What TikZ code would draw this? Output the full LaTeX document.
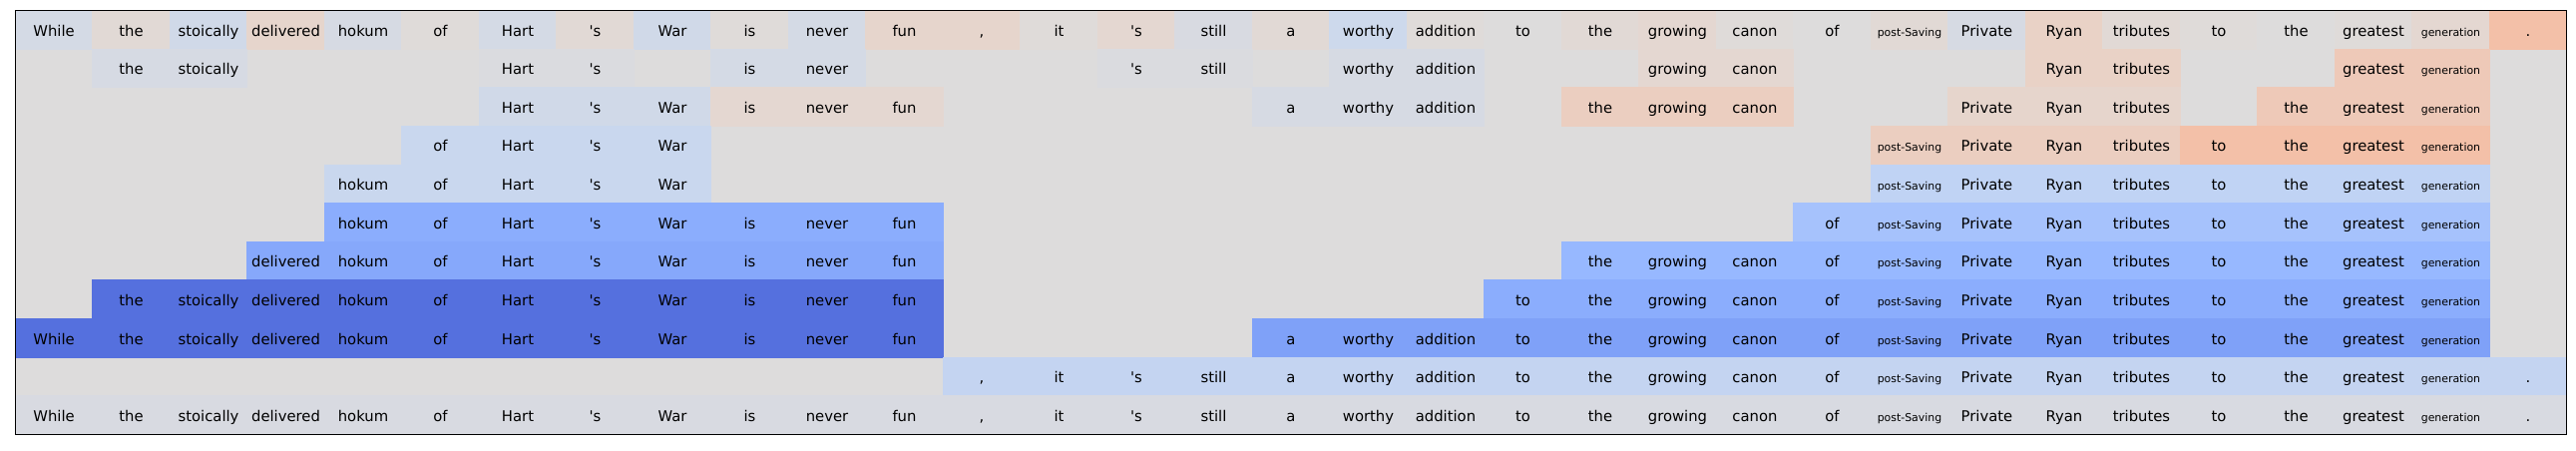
\documentclass[tikz,border=0pt]{standalone}
\usepackage{fontspec}
\setmainfont{DejaVu Sans}[Ligatures=TeXOff]
\usepackage{xcolor}
\definecolor{AttrGray}{HTML}{DDDCDC}
\definecolor{WarmA}{HTML}{DFDBD9}
\definecolor{WarmB}{HTML}{E1D9D5}
\definecolor{WarmC}{HTML}{E4D7D1}
\definecolor{WarmD}{HTML}{E6D5CC}
\definecolor{WarmE}{HTML}{E9D2C6}
\definecolor{WarmF}{HTML}{EBCEC0}
\definecolor{WarmG}{HTML}{EEC9B8}
\definecolor{WarmH}{HTML}{F3C0A8}
\definecolor{CoolA}{HTML}{DADBDF}
\definecolor{CoolB}{HTML}{D8DAE1}
\definecolor{CoolC}{HTML}{D6DAE3}
\definecolor{CoolD}{HTML}{D4DAE5}
\definecolor{CoolE}{HTML}{D0D9E8}
\definecolor{CoolF}{HTML}{CDD9EC}
\definecolor{CoolG}{HTML}{C9D7EE}
\definecolor{CoolH}{HTML}{C4D4F1}
\definecolor{CoolI}{HTML}{C0D3F4}
\definecolor{CoolJ}{HTML}{A6C2FC}
\definecolor{CoolK}{HTML}{97B8FF}
\definecolor{CoolL}{HTML}{8BADFD}
\definecolor{CoolM}{HTML}{86A8FB}
\definecolor{CoolN}{HTML}{7FA1F8}
\definecolor{CoolO}{HTML}{5570DE}

\newcommand{\shrunk}{\fontsize{5.45}{6}\selectfont}
% one coloured group of words: row, first column, colour, words
\newcommand{\attrspan}[4]{%
  \foreach \w [count=\i from #2] in {#4}
    \node[cell=#3] (r#1c\i) at (\i-0.5, #1-0.5) {\w};}

\begin{document}
\begin{tikzpicture}[x=38.75pt, y=-19.32pt,
    every node/.style={font=\fontsize{7.4}{9}\selectfont},
    cell/.style={fill=#1, draw=#1, line width=0.3pt, minimum width=38.75pt, minimum height=19.32pt,
      inner sep=0pt, text height=0.7em, text depth=0.06em}]
    \path[use as bounding box, fill=white] (-7.65pt,5.15pt) rectangle (1283.4pt,-220.37pt);
    \fill[AttrGray] (0,0) rectangle (33,11);

    % Row 1: single words
    \foreach \w/\k [count=\i] in {While/CoolD, the/WarmB, stoically/CoolE, delivered/WarmD, hokum/CoolC,
        of/WarmA, Hart/CoolD, 's/WarmB, War/CoolE, is/WarmA, never/CoolD, fun/WarmD, {,}/WarmD,
        it/WarmA, 's/WarmC, still/CoolB, a/WarmB, worthy/CoolF, addition/WarmA, to/AttrGray,
        the/WarmB, growing/WarmC, canon/WarmA, of/AttrGray, {\shrunk post-Saving}/WarmB,
        Private/CoolC, Ryan/WarmE, tributes/WarmB, to/WarmA, the/AttrGray, greatest/WarmA,
        {\shrunk generation}/WarmC, ./WarmH}
      \node[cell=\k] (r1c\i) at (\i-0.5, 0.5) {\w};

    % Row 2
    \attrspan{2}{2}{CoolC}{the,stoically}
    \attrspan{2}{7}{CoolA}{Hart,'s}
    \attrspan{2}{10}{CoolD}{is,never}
    \attrspan{2}{15}{CoolA}{'s,still}
    \attrspan{2}{18}{CoolC}{worthy,addition}
    \attrspan{2}{22}{WarmC}{growing,canon}
    \attrspan{2}{27}{WarmE}{Ryan,tributes}
    \attrspan{2}{31}{WarmG}{greatest,\shrunk generation}

    % Row 3
    \attrspan{3}{7}{CoolE}{Hart,'s,War}
    \attrspan{3}{10}{WarmC}{is,never,fun}
    \attrspan{3}{17}{CoolC}{a,worthy,addition}
    \attrspan{3}{21}{WarmF}{the,growing,canon}
    \attrspan{3}{26}{WarmD}{Private,Ryan,tributes}
    \attrspan{3}{30}{WarmG}{the,greatest,\shrunk generation}

    % Row 4
    \attrspan{4}{6}{CoolG}{of,Hart,'s,War}
    \attrspan{4}{25}{WarmF}{\shrunk post-Saving,Private,Ryan,tributes}
    \attrspan{4}{29}{WarmH}{to,the,greatest,\shrunk generation}

    % Row 5
    \attrspan{5}{5}{CoolG}{hokum,of,Hart,'s,War}
    \attrspan{5}{25}{CoolI}{\shrunk post-Saving,Private,Ryan,tributes,to,the,greatest,\shrunk generation}

    % Row 6
    \attrspan{6}{5}{CoolL}{hokum,of,Hart,'s,War,is,never,fun}
    \attrspan{6}{24}{CoolJ}{of,\shrunk post-Saving,Private,Ryan,tributes,to,the,greatest,\shrunk generation}

    % Row 7
    \attrspan{7}{4}{CoolM}{delivered,hokum,of,Hart,'s,War,is,never,fun}
    \attrspan{7}{21}{CoolK}{the,growing,canon,of,\shrunk post-Saving,Private,Ryan,tributes,to,the,greatest,\shrunk generation}

    % Row 8
    \attrspan{8}{2}{CoolO}{the,stoically,delivered,hokum,of,Hart,'s,War,is,never,fun}
    \attrspan{8}{20}{CoolL}{to,the,growing,canon,of,\shrunk post-Saving,Private,Ryan,tributes,to,the,greatest,\shrunk generation}

    % Row 9
    \attrspan{9}{1}{CoolO}{While,the,stoically,delivered,hokum,of,Hart,'s,War,is,never,fun}
    \attrspan{9}{17}{CoolN}{a,worthy,addition,to,the,growing,canon,of,\shrunk post-Saving,Private,Ryan,tributes,to,the,greatest,\shrunk generation}

    % Row 10
    \attrspan{10}{13}{CoolH}{{,},it,'s,still,a,worthy,addition,to,the,growing,canon,of,\shrunk post-Saving,Private,Ryan,tributes,to,the,greatest,\shrunk generation,.}

    % Row 11: whole sentence
    \attrspan{11}{1}{CoolB}{While,the,stoically,delivered,hokum,of,Hart,'s,War,is,never,fun,{,},it,'s,still,a,worthy,addition,to,the,growing,canon,of,\shrunk post-Saving,Private,Ryan,tributes,to,the,greatest,\shrunk generation,.}

    % Frame
    \draw[line width=0.55pt] (0,0) rectangle (33,11);
\end{tikzpicture}
\end{document}
